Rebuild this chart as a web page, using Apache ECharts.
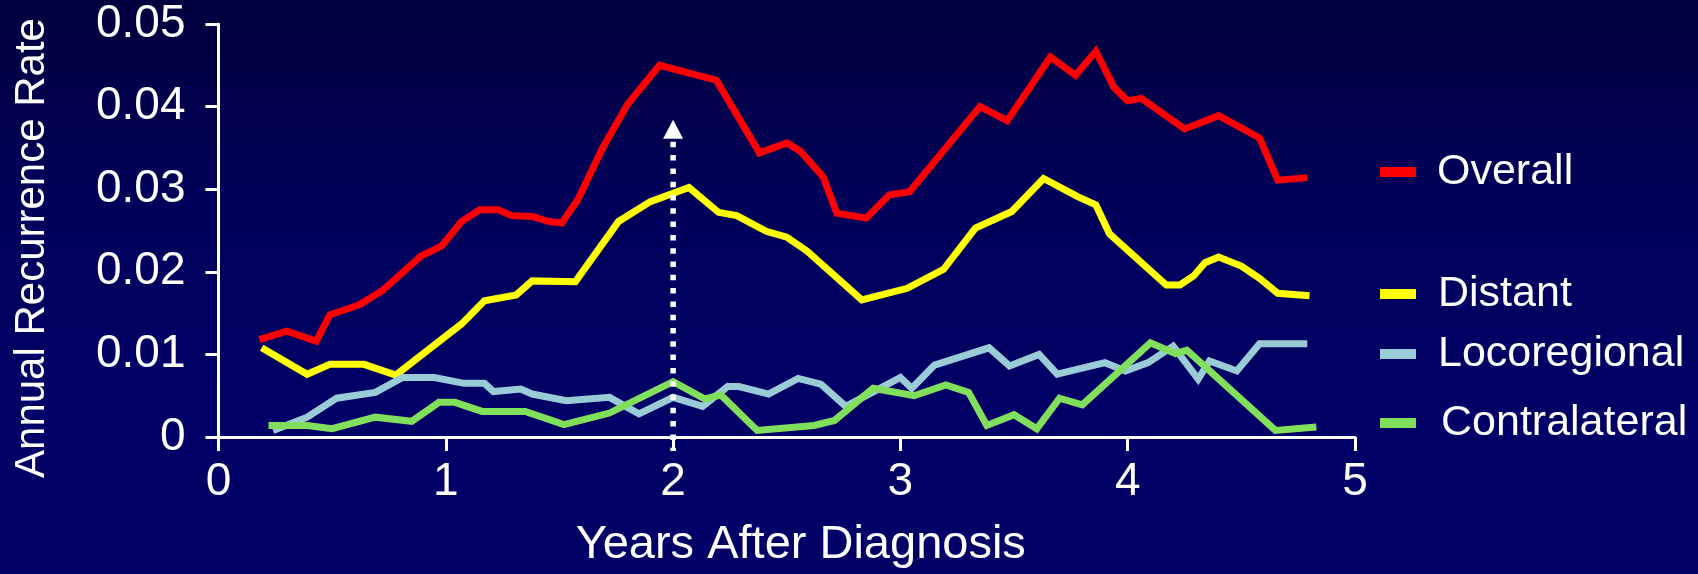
<!DOCTYPE html>
<html>
<head>
<meta charset="utf-8">
<title>Annual Recurrence Rate</title>
<script src="https://cdn.jsdelivr.net/npm/echarts@6/dist/echarts.min.js"></script>
<style>
  html, body { margin: 0; padding: 0; }
  body { background: linear-gradient(to bottom, #00003e 0%, #00005a 35%, #000066 70%, #000066 100%); }
  #chart { width: 1698px; height: 574px; }
</style>
</head>
<body>
<div id="chart"></div>
<script>
// Series names and colours
const seriesNames = ['Overall', 'Distant', 'Locoregional', 'Contralateral'];
const seriesColors = ['#ff0000', '#ffff00', '#99ccd6', '#80e05c'];

// Axis tick labels
const xTickLabels = ['0', '1', '2', '3', '4', '5'];
const yTickLabels = ['0', '0.01', '0.02', '0.03', '0.04', '0.05'];

// [years after diagnosis, annual recurrence rate]
const overall = [
  [0.18, 0.0118], [0.30, 0.0128], [0.43, 0.0116], [0.49, 0.0148], [0.62, 0.0160],
  [0.72, 0.0177], [0.89, 0.0219], [0.98, 0.0231], [1.07, 0.0261], [1.15, 0.0275],
  [1.23, 0.0275], [1.29, 0.0268], [1.38, 0.0267], [1.45, 0.0261], [1.51, 0.0259],
  [1.58, 0.0287], [1.69, 0.0350], [1.80, 0.0403], [1.94, 0.0450], [2.19, 0.0432],
  [2.38, 0.0344], [2.50, 0.0356], [2.56, 0.0346], [2.66, 0.0315], [2.72, 0.0271],
  [2.85, 0.0265], [2.95, 0.0293], [3.04, 0.0297], [3.35, 0.0400], [3.47, 0.0383],
  [3.66, 0.0460], [3.77, 0.0438], [3.86, 0.0467], [3.94, 0.0423], [4.00, 0.0407],
  [4.06, 0.0410], [4.25, 0.0373], [4.40, 0.0389], [4.58, 0.0362], [4.66, 0.0311],
  [4.79, 0.0314]
];
const distant = [
  [0.19, 0.0108], [0.39, 0.0076], [0.49, 0.0088], [0.64, 0.0088], [0.78, 0.0075],
  [1.07, 0.0137], [1.17, 0.0165], [1.31, 0.0172], [1.38, 0.0189], [1.57, 0.0188],
  [1.76, 0.0261], [1.90, 0.0285], [2.07, 0.0302], [2.20, 0.0272], [2.28, 0.0268],
  [2.41, 0.0249], [2.50, 0.0242], [2.59, 0.0225], [2.83, 0.0166], [3.03, 0.0180],
  [3.19, 0.0203], [3.33, 0.0253], [3.49, 0.0273], [3.63, 0.0313], [3.78, 0.0291],
  [3.86, 0.0281], [3.92, 0.0246], [4.17, 0.0184], [4.23, 0.0184], [4.29, 0.0195],
  [4.34, 0.0211], [4.40, 0.0218], [4.50, 0.0207], [4.58, 0.0192], [4.66, 0.0174],
  [4.80, 0.0171]
];
const locoregional = [
  [0.24, 0.0008], [0.39, 0.0024], [0.52, 0.0047], [0.69, 0.0054], [0.81, 0.0072],
  [0.95, 0.0072], [1.08, 0.0065], [1.17, 0.0065], [1.21, 0.0055], [1.33, 0.0058],
  [1.38, 0.0052], [1.53, 0.0044], [1.72, 0.0048], [1.85, 0.0028], [2.00, 0.0048],
  [2.13, 0.0037], [2.24, 0.0061], [2.29, 0.0061], [2.42, 0.0052], [2.55, 0.0071],
  [2.65, 0.0064], [2.76, 0.0037], [3.00, 0.0072], [3.05, 0.0059], [3.15, 0.0087],
  [3.39, 0.0108], [3.48, 0.0086], [3.61, 0.0100], [3.69, 0.0076], [3.90, 0.0090],
  [3.99, 0.0080], [4.09, 0.0090], [4.20, 0.0110], [4.31, 0.0070], [4.36, 0.0092],
  [4.48, 0.0080], [4.58, 0.0113], [4.79, 0.0113]
];
const contralateral = [
  [0.22, 0.0014], [0.39, 0.0014], [0.50, 0.0010], [0.69, 0.0024], [0.85, 0.0019],
  [0.97, 0.0042], [1.04, 0.0042], [1.16, 0.0031], [1.35, 0.0031], [1.52, 0.0015],
  [1.72, 0.0029], [2.00, 0.0067], [2.14, 0.0046], [2.21, 0.0051], [2.37, 0.0008],
  [2.62, 0.0014], [2.71, 0.0020], [2.88, 0.0059], [3.06, 0.0050], [3.20, 0.0063],
  [3.30, 0.0054], [3.38, 0.0014], [3.50, 0.0027], [3.60, 0.0010], [3.70, 0.0047],
  [3.80, 0.0039], [4.10, 0.0114], [4.21, 0.0101], [4.26, 0.0105], [4.65, 0.0008],
  [4.83, 0.0012]
];
const seriesData = [overall, distant, locoregional, contralateral];

// Dotted arrow marking year 2: [x, from rate, to rate]
const arrowMarks = [[2, -0.0017, 0.0384]];

// Vertical centre and text indent of each legend entry
const legendCenters = [172, 294, 354, 423];
const legendIndents = [16, 17, 17, 20];

const FONT = '"Liberation Sans", Arial, Helvetica, sans-serif';

const chart = echarts.init(document.getElementById('chart'), null, { renderer: 'canvas' });

const lineSeries = seriesNames.map((name, i) => ({
  name: name,
  type: 'line',
  data: seriesData[i],
  showSymbol: false,
  symbol: 'none',
  silent: true,
  animation: false,
  itemStyle: { color: seriesColors[i] },
  lineStyle: { color: seriesColors[i], width: 7, join: 'miter', cap: 'butt' },
  z: 2 + i
}));

const arrowSeries = {
  type: 'custom',
  data: arrowMarks,
  silent: true,
  animation: false,
  clip: false,
  z: 10,
  renderItem: function (params, api) {
    const x = api.value(0);
    const bottom = api.coord([x, api.value(1)]);
    const tip = api.coord([x, api.value(2)]);
    const headH = 19, headW = 20;
    return {
      type: 'group',
      children: [
        {
          type: 'line',
          shape: { x1: tip[0], y1: tip[1] + headH + 3, x2: bottom[0], y2: bottom[1] },
          style: { stroke: '#ffffff', lineWidth: 5.5, lineDash: [5.5, 7.8], lineCap: 'butt' }
        },
        {
          type: 'polygon',
          shape: { points: [[tip[0], tip[1]], [tip[0] - headW / 2, tip[1] + headH], [tip[0] + headW / 2, tip[1] + headH]] },
          style: { fill: '#ffffff' }
        }
      ]
    };
  }
};

const legends = seriesNames.map((name, i) => ({
  data: [name],
  orient: 'vertical',
  left: 1380,
  top: legendCenters[i] - 21.5,
  padding: 0,
  icon: 'rect',
  itemWidth: 36,
  itemHeight: 10,
  selectedMode: false,
  textStyle: {
    color: '#ffffff',
    fontSize: 43,
    fontFamily: FONT,
    padding: [0, 0, 0, legendIndents[i]]
  }
}));

const option = {
  backgroundColor: 'transparent',
  animation: false,
  textStyle: { fontFamily: FONT },
  grid: { left: 218.5, right: 343, top: 24, bottom: 134.7, containLabel: false },
  legend: legends,
  xAxis: {
    type: 'value',
    min: 0,
    max: 5,
    interval: 1,
    name: 'Years After Diagnosis',
    nameLocation: 'middle',
    nameGap: 85,
    nameTextStyle: { color: '#ffffff', fontSize: 47, fontFamily: FONT, padding: [0, 0, 0, 28] },
    axisLine: { show: true, onZero: false, lineStyle: { color: '#ffffff', width: 3 } },
    axisTick: { show: true, length: 14, lineStyle: { color: '#ffffff', width: 3 } },
    axisLabel: {
      color: '#ffffff', fontSize: 46, fontFamily: FONT, margin: 22,
      formatter: v => xTickLabels[Math.round(v)]
    },
    splitLine: { show: false }
  },
  yAxis: {
    type: 'value',
    min: 0,
    max: 0.05,
    interval: 0.01,
    axisLine: { show: true, onZero: false, lineStyle: { color: '#ffffff', width: 3 } },
    axisTick: { show: true, length: 13, lineStyle: { color: '#ffffff', width: 3 } },
    axisLabel: {
      color: '#ffffff', fontSize: 46, fontFamily: FONT, margin: 33,
      formatter: v => yTickLabels[Math.round(v * 100)]
    },
    splitLine: { show: false }
  },
  graphic: [{
    type: 'text',
    x: 32,
    y: 248,
    rotation: Math.PI / 2,
    silent: true,
    style: {
      text: 'Annual Recurrence Rate',
      fill: '#ffffff',
      font: '42px ' + FONT,
      align: 'center',
      verticalAlign: 'middle'
    }
  }],
  series: lineSeries.concat([arrowSeries])
};

chart.setOption(option);
</script>
</body>
</html>
